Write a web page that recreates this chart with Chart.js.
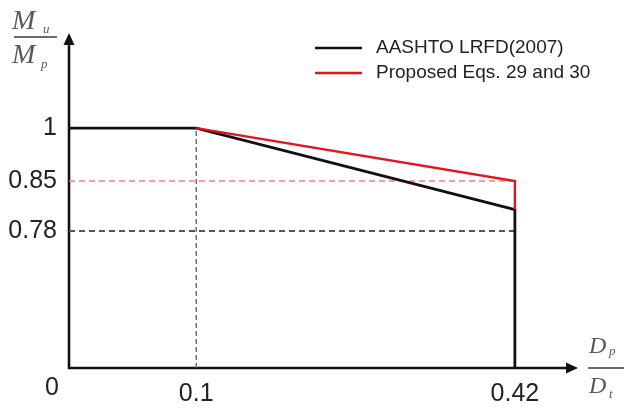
<!DOCTYPE html>
<html>
<head>
<meta charset="utf-8">
<script src="https://cdn.jsdelivr.net/npm/chart.js@4.4.0/dist/chart.umd.min.js"></script>
<style>
  html, body { margin: 0; padding: 0; background: #fff; }
  #wrap { width: 624px; height: 408px; }
</style>
</head>
<body>
<div id="wrap"><canvas id="chart"></canvas></div>
<script>
// moment ratio Mu/Mp against depth ratio Dp/Dt
const seriesNames = ['AASHTO LRFD(2007)', 'Proposed Eqs. 29 and 30'];
const aashtoX = [0, 0.1, 0.42, 0.42];
const aashtoY = [1, 1, 0.81, 0];
const proposedX = [0.1, 0.42, 0.42];
const proposedY = [1, 0.85, 0.81];
const xTicks = [0.1, 0.42];
const yTicks = [0.78, 0.85, 1];

const toPoints = (xs, ys) => xs.map((x, i) => ({ x: x, y: ys[i] }));

// sketch-style axis: each stop pins a value to a fraction of the axis length
class SketchScale extends Chart.LinearScale {
  static id = 'sketch';
  static defaults = Chart.LinearScale.defaults;

  getPixelForValue(value) {
    const stops = this.options.stops;
    let f = 0;
    for (let i = 1; i < stops.length; i++) {
      const [v0, f0] = stops[i - 1];
      const [v1, f1] = stops[i];
      if (value <= v1 || i === stops.length - 1) {
        f = f0 + (value - v0) / (v1 - v0) * (f1 - f0);
        break;
      }
    }
    return this.getPixelForDecimal(f);
  }

  getValueForPixel(pixel) {
    const stops = this.options.stops;
    const f = this.getDecimalForPixel(pixel);
    for (let i = 1; i < stops.length; i++) {
      const [v0, f0] = stops[i - 1];
      const [v1, f1] = stops[i];
      if (f <= f1 || i === stops.length - 1) {
        return v0 + (f - f0) / (f1 - f0) * (v1 - v0);
      }
    }
    return 0;
  }
}
Chart.register(SketchScale);

const black = '#111111';
const red = '#e3141c';

// dashed guides built from the tick values
const guides = [
  { pts: [{ x: 0, y: yTicks[1] }, { x: xTicks[1], y: yTicks[1] }], color: '#f08080', dash: [6, 4], w: 1.6 },
  { pts: [{ x: 0, y: yTicks[0] }, { x: xTicks[1], y: yTicks[0] }], color: '#555555', dash: [6, 4], w: 2 },
  { pts: [{ x: xTicks[0], y: 0 }, { x: xTicks[0], y: yTicks[2] }], color: '#666666', dash: [5, 3], w: 1.4 }
];

const datasets = [
  { label: seriesNames[1], data: toPoints(proposedX, proposedY), borderColor: red, borderWidth: 2.4 },
  { label: seriesNames[0], data: toPoints(aashtoX, aashtoY), borderColor: black, borderWidth: 2.8 }
].concat(guides.map(g => ({
  label: '', data: g.pts, borderColor: g.color, borderWidth: g.w, borderDash: g.dash
})));

const sketchAxes = {
  id: 'sketchAxes',
  beforeDatasetsDraw(chart) {
    const { ctx, chartArea: a } = chart;
    const x0 = chart.scales.x.getPixelForValue(0);
    const y0 = chart.scales.y.getPixelForValue(0);
    ctx.save();
    ctx.strokeStyle = black;
    ctx.fillStyle = black;
    ctx.lineWidth = 2.6;
    ctx.beginPath();
    ctx.moveTo(x0, a.top + 10);
    ctx.lineTo(x0, y0);
    ctx.lineTo(a.right - 10, y0);
    ctx.stroke();
    // arrow heads
    ctx.beginPath();
    ctx.moveTo(x0, a.top);
    ctx.lineTo(x0 - 5.5, a.top + 12);
    ctx.lineTo(x0 + 5.5, a.top + 12);
    ctx.closePath();
    ctx.fill();
    ctx.beginPath();
    ctx.moveTo(a.right, y0);
    ctx.lineTo(a.right - 12, y0 - 5.5);
    ctx.lineTo(a.right - 12, y0 + 5.5);
    ctx.closePath();
    ctx.fill();
    ctx.restore();
  },
  afterDraw(chart) {
    const { ctx } = chart;
    const x0 = chart.scales.x.getPixelForValue(0);
    const y0 = chart.scales.y.getPixelForValue(0);
    ctx.save();

    // origin label
    ctx.fillStyle = '#222';
    ctx.font = '25px "Liberation Sans", Arial, sans-serif';
    ctx.textAlign = 'center';
    ctx.textBaseline = 'middle';
    ctx.fillText('0', x0 - 17, y0 + 20);

    // axis titles as stacked fractions
    ctx.fillStyle = '#5a5a5a';
    ctx.strokeStyle = '#6a6a6a';
    ctx.lineWidth = 2;
    ctx.textAlign = 'left';
    ctx.textBaseline = 'alphabetic';
    const small = 'italic 13px "Liberation Serif", "DejaVu Serif", serif';

    ctx.font = 'italic 28px "Liberation Serif", "DejaVu Serif", serif';
    ctx.fillText('M', 12, 29);
    ctx.fillText('M', 12, 63);
    ctx.font = small;
    ctx.fillText('u', 43, 33);
    ctx.fillText('p', 41, 68);
    ctx.beginPath();
    ctx.moveTo(14, 37);
    ctx.lineTo(57, 37);
    ctx.stroke();

    ctx.font = 'italic 24px "Liberation Serif", "DejaVu Serif", serif';
    ctx.fillText('D', 589, 353);
    ctx.fillText('D', 589, 393);
    ctx.font = small;
    ctx.fillText('p', 609, 355);
    ctx.fillText('t', 609, 398);
    ctx.beginPath();
    ctx.moveTo(588, y0);
    ctx.lineTo(624, y0);
    ctx.stroke();

    // legend
    ctx.font = '19px "Liberation Sans", Arial, sans-serif';
    ctx.textBaseline = 'middle';
    const rows = [
      { name: seriesNames[0], color: black, y: 48 },
      { name: seriesNames[1], color: red, y: 73 }
    ];
    rows.forEach(r => {
      ctx.strokeStyle = r.color;
      ctx.lineWidth = 2.4;
      ctx.beginPath();
      ctx.moveTo(315, r.y);
      ctx.lineTo(362, r.y);
      ctx.stroke();
      ctx.fillStyle = '#222';
      ctx.fillText(r.name, 376, r.y);
    });
    ctx.restore();
  }
};

new Chart(document.getElementById('chart'), {
  type: 'line',
  data: { datasets: datasets },
  plugins: [sketchAxes],
  options: {
    responsive: true,
    maintainAspectRatio: false,
    animation: false,
    layout: { padding: { left: 8, top: 33, right: 46, bottom: 0 } },
    elements: { point: { radius: 0 }, line: { tension: 0 } },
    plugins: { legend: { display: false }, tooltip: { enabled: false } },
    scales: {
      x: {
        type: 'sketch',
        min: 0,
        max: 0.48,
        stops: [[0, 0], [0.1, 0.25], [0.42, 0.876], [0.48, 1]],
        afterBuildTicks: s => { s.ticks = xTicks.map(v => ({ value: v })); },
        afterFit: s => { s.height = 40; },
        grid: { display: false, drawTicks: false },
        border: { display: false },
        ticks: {
          padding: 11,
          color: '#222',
          font: { family: '"Liberation Sans", Arial, sans-serif', size: 25 },
          callback: v => String(v),
          maxRotation: 0,
          autoSkip: false
        }
      },
      y: {
        type: 'sketch',
        min: 0,
        max: 1.26,
        stops: [[0, 0], [0.78, 0.409], [0.85, 0.558], [1, 0.716], [1.26, 1]],
        afterBuildTicks: s => { s.ticks = yTicks.map(v => ({ value: v })); },
        afterFit: s => { s.width = 61; },
        grid: { display: false, drawTicks: false },
        border: { display: false },
        ticks: {
          padding: 12,
          color: '#222',
          font: { family: '"Liberation Sans", Arial, sans-serif', size: 25 },
          callback: v => String(v),
          autoSkip: false
        }
      }
    }
  }
});
</script>
</body>
</html>
